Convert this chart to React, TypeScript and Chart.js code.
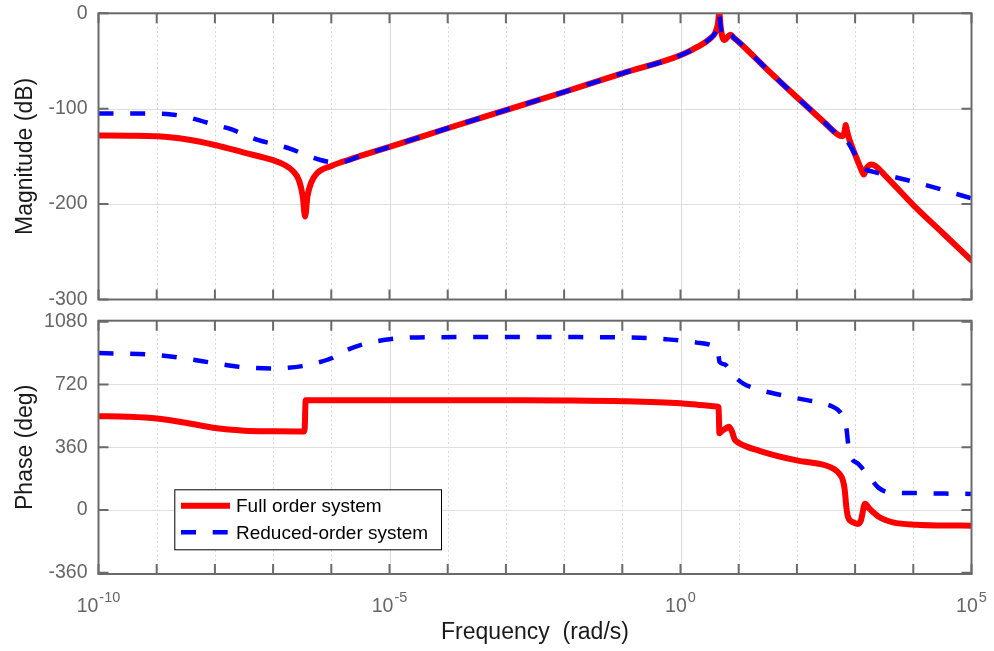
import React, { useEffect, useRef } from 'react';
import { Chart, registerables } from 'chart.js';

Chart.register(...registerables);

const FONT = '"Liberation Sans", Arial, Helvetica, sans-serif';

// ---- axis / tick definitions ----
const DECADE_EXPS = [-10, -9, -8, -7, -6, -5, -4, -3, -2, -1, 0, 1, 2, 3, 4, 5];
const X_LABEL_EXPS = [-10, -5, 0, 5];
const MAG_TICKS = [0, -100, -200, -300];
const PHASE_TICKS = [1080, 720, 360, 0, -360];

const SERIES_FULL = 'Full order system';
const SERIES_REDUCED = 'Reduced-order system';

// ---- magnitude, full order (log10 of frequency, dB) ----
const magFullLogW = [-10, -9.5, -9, -8.5, -8, -7.5, -7, -6.8, -6.65, -6.55, -6.49, -6.45, -6.41, -6.35, -6.25, -6.0, -5.8, -5.5, -5, -4, -3, -2, -1, 0, 0.3, 0.5, 0.6, 0.64, 0.667, 0.69, 0.72, 0.76, 0.82, 0.86, 0.92, 1.0, 1.5, 2.0, 2.5, 2.7, 2.78, 2.82, 2.84, 2.86, 2.9, 3.0, 3.1, 3.15, 3.2, 3.28, 3.35, 3.5, 4.0, 4.5, 5.0];
const magFullDb = [-128, -128.3, -129, -132, -138, -146, -154, -159, -166, -176, -192, -213, -192, -178, -168, -160, -155.5, -149.5, -140, -120.5, -101.5, -82.5, -63, -44, -35, -27, -20, -12, 0, -14, -25, -28, -24, -22.5, -26, -30, -59.5, -88, -116, -127, -129, -124, -117, -123, -132, -148, -163, -169, -162, -158.5, -160, -169, -201, -230, -259];

// ---- magnitude, reduced order ----
const magRedLogW = [-10, -9, -8.75, -8.5, -8.25, -8, -7.75, -7.5, -7.25, -7, -6.7, -6.5, -6.2, -6.0, -5.8, -5.5, -5, -4, -3, -2, -1, 0, 0.3, 0.5, 0.6, 0.64, 0.667, 0.69, 0.72, 0.76, 0.82, 0.86, 0.92, 1.0, 1.5, 2.0, 2.5, 2.7, 2.85, 3.0, 3.14, 3.3, 3.5, 4.0, 4.5, 5.0];
const magRedDb = [-105, -105.3, -106, -108.5, -112.5, -117, -121, -127, -133, -137, -142, -147, -153.5, -155.8, -155.5, -149.5, -140, -120.5, -101.5, -82.5, -63, -44, -35, -27, -20, -12, -3, -14, -24, -27, -24, -22.5, -26, -30, -59.5, -88, -116, -127, -133, -148, -162, -166, -169, -176.5, -185, -194];

// ---- phase, full order (deg) ----
const phFullLogW = [-10, -9.5, -9, -8.5, -8, -7.5, -7, -6.5, -6.46, -6.44, -6, -5, -4, -3, -2, -1, 0, 0.4, 0.63, 0.655, 0.668, 0.7, 0.78, 0.83, 0.88, 0.93, 1.0, 1.37, 2.0, 2.5, 2.63, 2.73, 2.79, 2.82, 2.85, 2.88, 2.97, 3.05, 3.1, 3.17, 3.25, 3.42, 3.65, 4.06, 4.5, 5.0];
const phFullDeg = [538, 535, 525, 500, 470, 455, 451, 450, 452, 630, 630, 630, 630, 629, 628, 624, 612, 600, 594, 590, 440, 450, 468, 478, 455, 405, 385, 338, 284, 255, 236, 207, 170, 120, 15, -42, -71, -80, -60, 35, 6, -42, -71, -85, -89, -90];

// ---- phase, reduced order (deg) ----
const phRedLogW = [-10, -9, -8.5, -8, -7.5, -7, -6.5, -6.2, -6, -5.75, -5.5, -5, -4.5, -3, -1, -0.5, -0.24, 0, 0.28, 0.5, 0.6, 0.64, 0.67, 0.76, 0.9, 1.08, 1.37, 1.75, 2.17, 2.43, 2.6, 2.7, 2.8, 2.85, 2.9, 3.05, 3.25, 3.4, 3.6, 4.0, 4.5, 5.0];
const phRedDeg = [900, 889, 868, 842, 818, 812, 825, 848, 870, 915, 946, 979, 990, 992, 990, 985, 979, 972, 960, 948, 935, 925, 850, 835, 775, 725, 688, 658, 630, 615, 595, 575, 530, 470, 330, 266, 187, 128, 100, 97, 94, 92];

const toPoints = (logW: number[], vals: number[]) =>
  logW.map((e, i) => ({ x: Math.pow(10, e), y: vals[i] }));

const TICK_LEN = 10;
const TICK_FONT = 19.5;
const TITLE_FONT = 23;

const framePlugin = {
  id: 'bodeFrame',
  beforeDatasetsDraw(chart: any, _args: any, opts: any) {
    const { ctx, chartArea: a } = chart;
    const xs = chart.scales.x;
    const ys = chart.scales.y;
    ctx.save();
    ctx.lineWidth = 1;
    for (const e of DECADE_EXPS) {
      const px = Math.round(xs.getPixelForValue(Math.pow(10, e))) + 0.5;
      if (px < a.left + 2 || px > a.right - 2) continue;
      const major = e % 5 === 0;
      ctx.strokeStyle = major ? '#dcdcdc' : '#cfcfcf';
      ctx.setLineDash(major ? [] : [1.5, 3]);
      ctx.beginPath();
      ctx.moveTo(px, a.top);
      ctx.lineTo(px, a.bottom);
      ctx.stroke();
    }
    ctx.setLineDash([]);
    ctx.strokeStyle = '#dfdfdf';
    for (const v of opts.yTicks) {
      const py = Math.round(ys.getPixelForValue(v)) + 0.5;
      if (py < a.top + 2 || py > a.bottom - 2) continue;
      ctx.beginPath();
      ctx.moveTo(a.left, py);
      ctx.lineTo(a.right, py);
      ctx.stroke();
    }
    ctx.restore();
  },
  afterDatasetsDraw(chart: any, _args: any, opts: any) {
    const { ctx, chartArea: a } = chart;
    const xs = chart.scales.x;
    const ys = chart.scales.y;
    ctx.save();
    ctx.strokeStyle = '#6a6a6a';
    ctx.lineWidth = 2;
    ctx.setLineDash([]);
    ctx.strokeRect(a.left, a.top, a.right - a.left, a.bottom - a.top);
    ctx.beginPath();
    for (const e of DECADE_EXPS) {
      const px = xs.getPixelForValue(Math.pow(10, e));
      ctx.moveTo(px, a.top);
      ctx.lineTo(px, a.top + TICK_LEN);
      ctx.moveTo(px, a.bottom);
      ctx.lineTo(px, a.bottom - TICK_LEN);
    }
    for (const v of opts.yTicks) {
      const py = ys.getPixelForValue(v);
      ctx.moveTo(a.left, py);
      ctx.lineTo(a.left + TICK_LEN, py);
      ctx.moveTo(a.right, py);
      ctx.lineTo(a.right - TICK_LEN, py);
    }
    ctx.stroke();

    if (opts.xLabels) {
      ctx.fillStyle = '#666666';
      ctx.textBaseline = 'alphabetic';
      ctx.textAlign = 'left';
      for (const e of X_LABEL_EXPS) {
        const px = xs.getPixelForValue(Math.pow(10, e));
        const base = '10';
        const sup = String(e);
        ctx.font = `${TICK_FONT}px ${FONT}`;
        const w1 = ctx.measureText(base).width;
        ctx.font = `14.5px ${FONT}`;
        const w2 = ctx.measureText(sup).width;
        const start = px - (w1 + w2 + 1) / 2;
        ctx.font = `${TICK_FONT}px ${FONT}`;
        ctx.fillText(base, start, a.bottom + 37.7);
        ctx.font = `14.5px ${FONT}`;
        ctx.fillText(sup, start + w1 + 1, a.bottom + 27.7);
      }
    }

    if (opts.legend) {
      const lg = opts.legend;
      ctx.fillStyle = '#ffffff';
      ctx.fillRect(lg.x, lg.y, lg.w, lg.h);
      ctx.strokeStyle = '#000000';
      ctx.lineWidth = 1;
      ctx.strokeRect(lg.x + 0.5, lg.y + 0.5, lg.w, lg.h);
      chart.data.datasets.forEach((ds: any, i: number) => {
        const rowY = lg.y + 16.4 + i * 26.6;
        ctx.strokeStyle = ds.borderColor;
        ctx.lineWidth = ds.borderWidth;
        ctx.lineCap = 'butt';
        ctx.setLineDash(ds.borderDash || []);
        ctx.beginPath();
        ctx.moveTo(lg.x + 6.7, rowY);
        ctx.lineTo(lg.x + 55.7, rowY);
        ctx.stroke();
        ctx.setLineDash([]);
        ctx.fillStyle = '#000000';
        ctx.font = `19px ${FONT}`;
        ctx.textBaseline = 'middle';
        ctx.textAlign = 'left';
        ctx.fillText(ds.label, lg.x + 61.7, rowY + 1);
      });
    }
    ctx.restore();
  },
};

function makeDatasets(full: any[], reduced: any[]) {
  return [
    {
      label: SERIES_FULL,
      data: full,
      borderColor: '#ff0000',
      borderWidth: 6,
      borderJoinStyle: 'round',
      borderCapStyle: 'round',
      pointRadius: 0,
      fill: false,
      cubicInterpolationMode: 'monotone',
      order: 1,
    },
    {
      label: SERIES_REDUCED,
      data: reduced,
      borderColor: '#0000ff',
      borderWidth: 4.5,
      borderDash: [15, 16.7],
      borderJoinStyle: 'round',
      borderCapStyle: 'butt',
      pointRadius: 0,
      fill: false,
      cubicInterpolationMode: 'monotone',
      order: 0,
    },
  ];
}

function makeConfig(opts: {
  datasets: any[];
  yMin: number;
  yMax: number;
  yTicks: number[];
  yTitle: string;
  padTop: number;
  xHeight: number;
  xTitle?: string;
  xLabels: boolean;
  legend?: any;
}): any {
  return {
    type: 'line',
    data: { datasets: opts.datasets },
    plugins: [framePlugin],
    options: {
      responsive: false,
      animation: false,
      events: [],
      layout: { padding: { left: 0, right: 22.5, top: opts.padTop, bottom: 0 } },
      plugins: {
        legend: { display: false },
        tooltip: { enabled: false },
        bodeFrame: { yTicks: opts.yTicks, xLabels: opts.xLabels, legend: opts.legend },
      },
      scales: {
        x: {
          type: 'logarithmic',
          min: 1e-10,
          max: 1e5,
          grid: { display: false, drawTicks: false },
          border: { display: false },
          ticks: { display: false },
          title: {
            display: !!opts.xTitle,
            text: opts.xTitle || '',
            color: '#1a1a1a',
            font: { family: FONT, size: TITLE_FONT },
            padding: { top: 0, bottom: 5 },
          },
          afterFit: (s: any) => {
            s.height = opts.xHeight;
            s.paddingLeft = 0;
            s.paddingRight = 0;
          },
        },
        y: {
          type: 'linear',
          min: opts.yMin,
          max: opts.yMax,
          grid: { display: false, drawTicks: false },
          border: { display: false },
          afterBuildTicks: (s: any) => {
            s.ticks = opts.yTicks.map((v) => ({ value: v }));
          },
          ticks: {
            color: '#666666',
            font: { family: FONT, size: TICK_FONT, lineHeight: 1 },
            padding: 11,
            autoSkip: false,
            callback: (v: any) => String(v),
          },
          title: {
            display: true,
            text: opts.yTitle,
            color: '#1a1a1a',
            font: { family: FONT, size: TITLE_FONT },
            padding: { top: 11.5, bottom: 0 },
          },
          afterFit: (s: any) => {
            s.width = 98.5;
            s.paddingTop = 0;
            s.paddingBottom = 0;
          },
        },
      },
    },
  };
}

export default function App() {
  const magRef = useRef<HTMLCanvasElement>(null);
  const phRef = useRef<HTMLCanvasElement>(null);

  useEffect(() => {
    document.body.style.margin = '0';
    const magChart = new Chart(
      magRef.current as HTMLCanvasElement,
      makeConfig({
        datasets: makeDatasets(toPoints(magFullLogW, magFullDb), toPoints(magRedLogW, magRedDb)),
        yMin: -300,
        yMax: 0,
        yTicks: MAG_TICKS,
        yTitle: 'Magnitude (dB)',
        padTop: 13.3,
        xHeight: 10.5,
        xLabels: false,
      })
    );
    const phChart = new Chart(
      phRef.current as HTMLCanvasElement,
      makeConfig({
        datasets: makeDatasets(toPoints(phFullLogW, phFullDeg), toPoints(phRedLogW, phRedDeg)),
        yMin: -367.5,
        yMax: 1085.7,
        yTicks: PHASE_TICKS,
        yTitle: 'Phase (deg)',
        padTop: 10.7,
        xHeight: 77,
        xTitle: 'Frequency  (rad/s)',
        xLabels: true,
        legend: { x: 174.3, y: 179.3, w: 266.7, h: 60 },
      })
    );
    return () => {
      magChart.destroy();
      phChart.destroy();
    };
  }, []);

  return (
    <div style={{ position: 'relative', width: 994, height: 651, background: '#ffffff', overflow: 'hidden' }}>
      <canvas ref={magRef} width={994} height={310} style={{ position: 'absolute', left: 0, top: 0 }} />
      <canvas ref={phRef} width={994} height={341} style={{ position: 'absolute', left: 0, top: 310 }} />
    </div>
  );
}
